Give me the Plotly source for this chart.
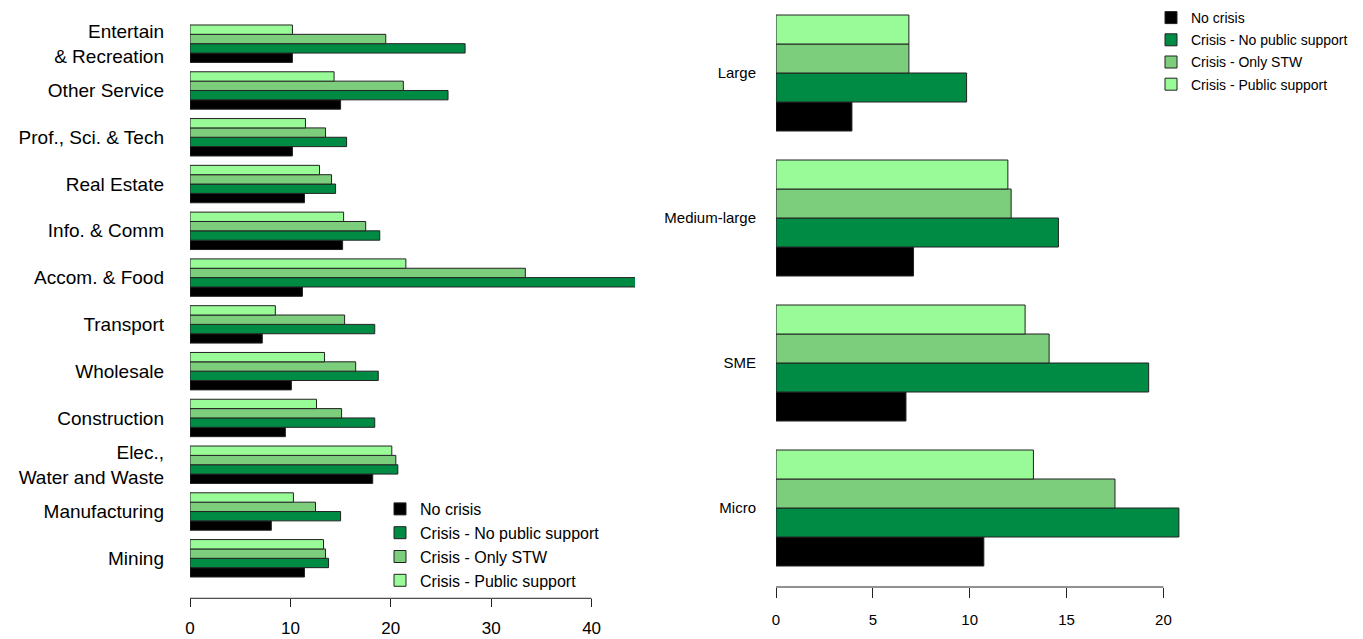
import plotly.graph_objects as go

# ---------------- data ----------------
series_names = ["No crisis", "Crisis - No public support", "Crisis - Only STW", "Crisis - Public support"]
series_colors = ["#000000", "#008B45", "#7CCD7C", "#98FB98"]

sectors = ["Mining", "Manufacturing", "Elec.,<br>Water and Waste", "Construction", "Wholesale",
           "Transport", "Accom. & Food", "Info. & Comm", "Real Estate", "Prof., Sci. & Tech",
           "Other Service", "Entertain<br>& Recreation"]
sec_no_crisis = [11.4, 8.1, 18.2, 9.5, 10.1, 7.2, 11.2, 15.2, 11.4, 10.2, 15.0, 10.2]
sec_no_support = [13.8, 15.0, 20.7, 18.4, 18.75, 18.4, 44.5, 18.9, 14.5, 15.6, 25.7, 27.4]
sec_only_stw = [13.5, 12.5, 20.5, 15.1, 16.5, 15.4, 33.4, 17.5, 14.1, 13.5, 21.25, 19.5]
sec_public = [13.3, 10.3, 20.1, 12.6, 13.4, 8.5, 21.5, 15.3, 12.9, 11.5, 14.35, 10.2]

sizes = ["Micro", "SME", "Medium-large", "Large"]
size_no_crisis = [10.73, 6.71, 7.1, 3.92]
size_no_support = [20.8, 19.24, 14.58, 9.84]
size_only_stw = [17.5, 14.1, 12.14, 6.86]
size_public = [13.29, 12.86, 11.97, 6.86]

left_ticks = [0, 10, 20, 30, 40]
right_ticks = [0, 5, 10, 15, 20]

# ---------------- layout geometry (pixels) ----------------
W, H = 1363, 639
FONT = "Liberation Sans, Arial, sans-serif"

L_x0, L_x1, L_per = 190, 635, 10.04
L_ybot = 598.3
L_first, L_last = 558.3, 43.7
L_step = (L_first - L_last) / (len(sectors) - 1)

R_x0, R_x1, R_per = 776, 1185, 19.37
R_ybot = 587
R_first, R_last = 508, 73
R_step = (R_first - R_last) / (len(sizes) - 1)

fig = go.Figure()

left_vals = [sec_no_crisis, sec_no_support, sec_only_stw, sec_public]
right_vals = [size_no_crisis, size_no_support, size_only_stw, size_public]

for name, col, vals in zip(series_names, series_colors, left_vals):
    fig.add_trace(go.Bar(
        y=sectors, x=vals, orientation="h", name=name,
        marker=dict(color=col, line=dict(color="#222222", width=1)),
        xaxis="x", yaxis="y", legend="legend", legendgroup="L" + name,
        hoverinfo="x+y",
    ))

for name, col, vals in zip(series_names, series_colors, right_vals):
    fig.add_trace(go.Bar(
        y=sizes, x=vals, orientation="h", name=name,
        marker=dict(color=col, line=dict(color="#222222", width=1)),
        xaxis="x2", yaxis="y2", legend="legend2", legendgroup="R" + name,
        hoverinfo="x+y",
    ))

fig.update_layout(
    width=W, height=H,
    margin=dict(l=0, r=0, t=0, b=0, autoexpand=False),
    paper_bgcolor="white", plot_bgcolor="white",
    font=dict(family=FONT, color="black"),
    barmode="group", bargap=0.2, bargroupgap=0,
    xaxis=dict(domain=[L_x0 / W, L_x1 / W], range=[0, (L_x1 - L_x0) / L_per],
               tickvals=left_ticks, ticks="outside", ticklen=8, tickcolor="#222222",
               ticklabelstandoff=6, automargin=False,
               showline=False, showgrid=False, zeroline=False,
               tickfont=dict(size=17, family=FONT), anchor="y"),
    yaxis=dict(domain=[1 - L_ybot / H, 1],
               range=[-(L_ybot - L_first) / L_step, len(sectors) - 1 + L_last / L_step],
               showline=False, showgrid=False, zeroline=False, ticks="", automargin=False,
               ticklabelstandoff=25, tickfont=dict(size=19, family=FONT), anchor="x"),
    xaxis2=dict(domain=[R_x0 / W, R_x1 / W], range=[0, (R_x1 - R_x0) / R_per],
                tickvals=right_ticks, ticks="outside", ticklen=10, tickcolor="#222222",
                ticklabelstandoff=9, automargin=False,
                showline=False, showgrid=False, zeroline=False,
                tickfont=dict(size=15, family=FONT), anchor="y2"),
    yaxis2=dict(domain=[1 - R_ybot / H, 1],
                range=[-(R_ybot - R_first) / R_step, len(sizes) - 1 + R_last / R_step],
                showline=False, showgrid=False, zeroline=False, ticks="", automargin=False,
                ticklabelstandoff=19, tickfont=dict(size=15, family=FONT), anchor="x2"),
    legend=dict(x=380 / W, y=1 - 492 / H, xanchor="left", yanchor="top",
                font=dict(size=16, family=FONT), bgcolor="rgba(0,0,0,0)",
                traceorder="normal", tracegroupgap=0, itemclick=False),
    legend2=dict(x=1151 / W, y=1 - 2 / H, xanchor="left", yanchor="top",
                 font=dict(size=14, family=FONT), bgcolor="rgba(0,0,0,0)",
                 traceorder="grouped", tracegroupgap=1, itemclick=False),
    shapes=[
        dict(type="line", xref="x", yref="paper", x0=0, x1=left_ticks[-1],
             y0=1 - L_ybot / H, y1=1 - L_ybot / H, line=dict(color="#222222", width=1)),
        dict(type="line", xref="x2", yref="paper", x0=0, x1=right_ticks[-1],
             y0=1 - R_ybot / H, y1=1 - R_ybot / H, line=dict(color="#222222", width=1)),
    ],
)

fig.write_html("out.html")
